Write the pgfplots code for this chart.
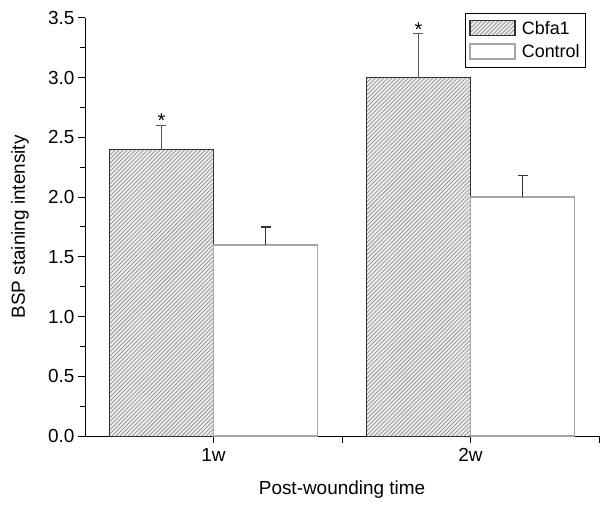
\documentclass[border=0pt]{standalone}
\usepackage{pgfplots}
\pgfplotsset{compat=1.18}
\usepackage{fontspec}
\setmainfont{Liberation Sans}
\usetikzlibrary{patterns.meta}
\begin{document}
\begin{tikzpicture}[x=1bp,y=1bp]
\begin{axis}[
  at={(0,0)}, anchor=south west,
  scale only axis,
  width=514bp, height=418bp,
  xmin=0.5, xmax=2.5, ymin=0, ymax=3.5,
  axis lines=left,
  axis line style={-, black, line width=1pt},
  xtick={1,1.5,2,2.5}, xticklabels={1w,,2w,},
  ytick={0,0.5,...,3.5},
  minor ytick={0.25,0.75,...,3.25},
  yticklabel style={/pgf/number format/fixed, /pgf/number format/fixed zerofill, /pgf/number format/precision=1},
  /pgf/number format/assume math mode=true,
  tick align=outside,
  major tick length=7bp, minor tick length=5bp,
  tick style={black, line width=1pt},
  ticklabel style={font=\fontsize{19}{21}\selectfont},
  xticklabel style={yshift=-2bp},
  every axis x label/.style={at={(axis description cs:0.5,-0.129)}, anchor=center},
  every axis y label/.style={at={(axis description cs:-0.1265,0.5)}, rotate=90, anchor=center},
  label style={font=\fontsize{19}{21}\selectfont},
  xlabel={Post-wounding time},
  ylabel={BSP staining intensity},
  legend style={at={(0.975,1.012)}, anchor=north east, draw=black, line width=1pt,
    font=\fontsize{18}{20}\selectfont, row sep=5bp, inner xsep=4bp, inner ysep=6bp,
    /tikz/every odd column/.style={column sep=4bp}},
  legend cell align=left,
  legend image code/.code={\draw[#1, line width=1.4pt] (0bp,-7bp) rectangle (45bp,8bp);},
  clip=false,
]
\addplot[ybar, bar width=0.405, bar shift=0pt, draw=black!80, line width=1pt,
  fill=gray!12, postaction={pattern={Lines[angle=45, distance=2.9bp, line width=0.9bp]}, pattern color=gray!80},
  error bars/.cd, y dir=plus, y explicit,
  error bar style={black!65, line width=1.2pt},
  error mark options={rotate=90, mark size=5bp, black!65, line width=1.2pt}]
  coordinates {(0.7975,2.4) +- (0,0.2) (1.7975,3.0) +- (0,0.37)};
\addlegendentry{Cbfa1}
\addplot[ybar, bar width=0.405, bar shift=0pt, draw=gray!70, line width=1.3pt,
  fill=white,
  error bars/.cd, y dir=plus, y explicit,
  error bar style={black!80, line width=1.2pt},
  error mark options={rotate=90, mark size=5bp, black!80, line width=1.2pt}]
  coordinates {(1.2025,1.6) +- (0,0.15) (2.2025,2.0) +- (0,0.18)};
\addlegendentry{Control}
\addplot[draw=none, mark=none, forget plot, nodes near coords={*},
  every node near coord/.style={anchor=center, font=\fontsize{20}{20}\selectfont}]
  coordinates {(0.7975,2.64) (1.7975,3.40)};
\end{axis}
\pgfresetboundingbox
\path (-85bp,-75bp) rectangle (527bp,436bp);
\end{tikzpicture}
\end{document}
